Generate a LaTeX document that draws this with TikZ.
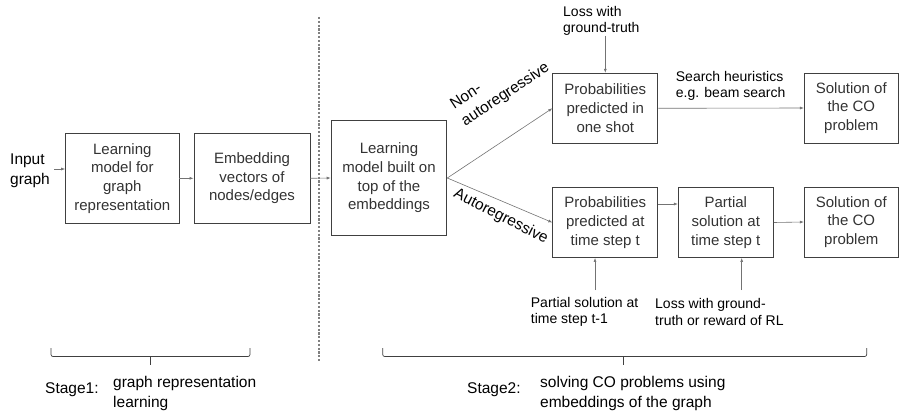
\documentclass[tikz,border=0pt]{standalone}
\usepackage{fontspec}
\setmainfont{Liberation Sans}
\usetikzlibrary{arrows.meta}
\begin{document}
\begin{tikzpicture}[x=1pt,y=-1pt,
 box/.style={draw=black!75, line width=0.9pt, align=center, inner sep=0pt, text=black!80, font=\fontsize{15}{18.7}\selectfont},
 arr/.style={draw=black!55, line width=0.6pt, -{Latex[length=4pt,width=3pt]}},
 lbl/.style={inner sep=0pt, anchor=west, align=left, font=\fontsize{14}{16.5}\selectfont},
 stage/.style={inner sep=0pt, anchor=west, align=left, font=\fontsize{15.5}{20}\selectfont},
 rot/.style={inner sep=0pt, align=left, font=\fontsize{15.5}{20}\selectfont},
 bracket/.style={draw=black!75, line width=0.7pt, rounded corners=2pt},
 sep/.style={draw=black!50, line width=1.2pt, dash pattern=on 2.2pt off 1.6pt}]
\useasboundingbox (0,0) rectangle (899,417);

% boxes
\node[box, minimum width=113.3pt, minimum height=90pt] (b1) at (122.3,178.3) {Learning\\model for\\graph\\representation};
\node[box, minimum width=116pt, minimum height=90pt] (b2) at (252,178.3) {Embedding\\vectors of\\nodes/edges};
\node[box, minimum width=115.7pt, minimum height=114.3pt] (b3) at (389,178) {Learning\\model built on\\top of the\\embeddings};
\node[box, minimum width=105pt, minimum height=70pt] (b4) at (605.3,108.3) {Probabilities\\predicted in\\one shot};
\node[box, minimum width=105pt, minimum height=70pt] (b5) at (605.3,222.5) {Probabilities\\predicted at\\time step t};
\node[box, minimum width=95pt, minimum height=70pt] (b6) at (725.8,222.5) {Partial\\solution at\\time step t};
\node[box, minimum width=94pt, minimum height=70pt] (b7) at (851.3,108) {Solution of\\the CO\\problem};
\node[box, minimum width=94pt, minimum height=70pt] (b8) at (851.3,222) {Solution of\\the CO\\problem};

% labels
\node[stage] (inp) at (10,171) {Input\\graph};
\node[lbl] (lt) at (563,21) {Loss with\\ground-truth};
\node[lbl] (sh) at (675.7,86) {Search heuristics\\e.g. beam search};
\node[lbl] (ps) at (530.7,312) {Partial solution at\\time step t-1};
\node[lbl] (lb) at (655,312) {Loss with ground-\\truth or reward of RL};
\node[rot, rotate=33.5] (na) at (500.2,86.6) {Non-\\autoregressive};
\node[rot, rotate=-27] (ar) at (500.8,216.7) {Autoregressive};
\node[stage] (s1) at (45,390) {Stage1:};
\node[stage] (s1t) at (113,393) {graph representation\\learning};
\node[stage] (s2) at (467,390) {Stage2:};
\node[stage] (s2t) at (540,393) {solving CO problems using\\embeddings of the graph};

% helper coordinates
\coordinate (yi) at (0,169);
\coordinate (ys) at (0,204);
\coordinate (pa) at (595,290);
\coordinate (la) at (741.7,290);

% connectors
\draw[arr] (inp.east |- yi) ++(4,0) -- (b1.west |- yi);
\draw[arr] (b1.east) -- (b2.west);
\draw[arr] (b2.east) -- (b3.west);
\draw[arr] (b3.east) -- (b4.west);
\draw[arr] (b3.east) -- (b5.west);
\draw[arr] (b4.east) -- (b7.west);
\draw[arr] (b5.east |- ys) -- (b6.west |- ys);
\draw[arr] (b6.east) -- (b8.west);
\draw[arr] (b4.north |- lt.south) -- (b4.north);
\draw[arr] (pa) -- (pa |- b5.south);
\draw[arr] (la) -- (la |- b6.south);

% separator
\draw[sep] (319,17) -- (319,362);

% brackets
\draw[bracket] (51,348) -- (51,356.5) -- (250,356.5) -- (250,348);
\draw[bracket] (150,356.5) -- (150,365);
\draw[bracket] (382.7,348) -- (382.7,356.5) -- (866.7,356.5) -- (866.7,348);
\draw[bracket] (623,356.5) -- (623,365);
\end{tikzpicture}
\end{document}
